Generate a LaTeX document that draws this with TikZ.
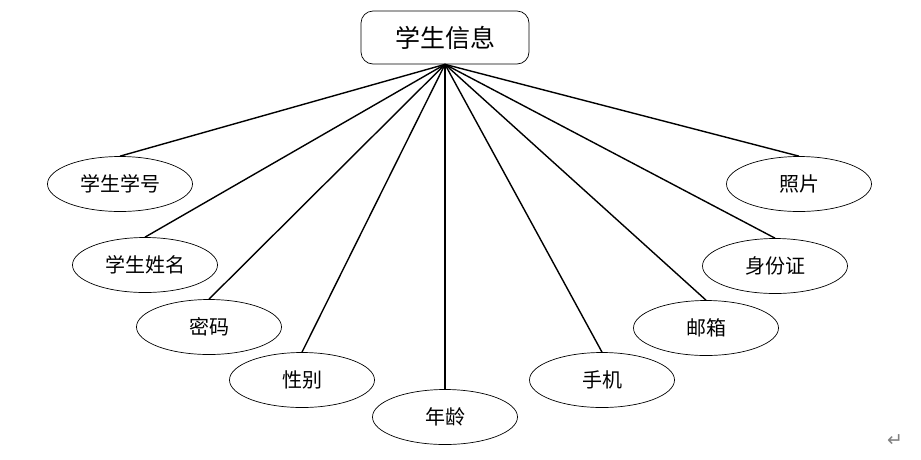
\documentclass[tikz,border=0pt]{standalone}
\usepackage{fontspec}
\newfontfamily\cjk{Noto Sans CJK SC}
\newfontfamily\symfont{DejaVu Sans}
\usepackage{tikz}
\usetikzlibrary{positioning, shapes.geometric}

\begin{document}
\begin{tikzpicture}[x=1pt,y=-1pt,thick,
	attr/.style={ellipse, draw, line width=0.7pt, minimum width=145pt, minimum height=55pt, inner sep=0pt, font=\cjk\fontsize{20}{20}\selectfont},
	entity/.style={rectangle, draw, line width=0.7pt, rounded corners=12pt, minimum width=168pt, minimum height=53pt, font=\cjk\fontsize{25}{25}\selectfont}]
	
	\useasboundingbox (0,0) rectangle (921,459);
	
	\node (info) [entity] at (445,37.5) {学生信息};
	
	\node (a1) [attr] at (120,184) {学生学号};
	\node (a2) [attr] at (145,265) {学生姓名};
	\node (a3) [attr] at (209,327) {密码};
	\node (a4) [attr] at (302,380) {性别};
	\node (a5) [attr] at (445,417) {年龄};
	\node (a6) [attr] at (602,380) {手机};
	\node (a7) [attr] at (706,328) {邮箱};
	\node (a8) [attr] at (775,266) {身份证};
	\node (a9) [attr] at (799,184) {照片};
	
	\node (ret) [text=gray, font=\symfont\fontsize{19}{19}\selectfont] at (895,441) {↵};
	
	\path [line width=1.4pt]
	(info.south) edge (a1.north)
	(info.south) edge (a2.north)
	(info.south) edge (a3.north)
	(info.south) edge (a4.north)
	(info.south) edge (a5.north)
	(info.south) edge (a6.north)
	(info.south) edge (a7.north)
	(info.south) edge (a8.north)
	(info.south) edge (a9.north);
	
\end{tikzpicture}
\end{document}
